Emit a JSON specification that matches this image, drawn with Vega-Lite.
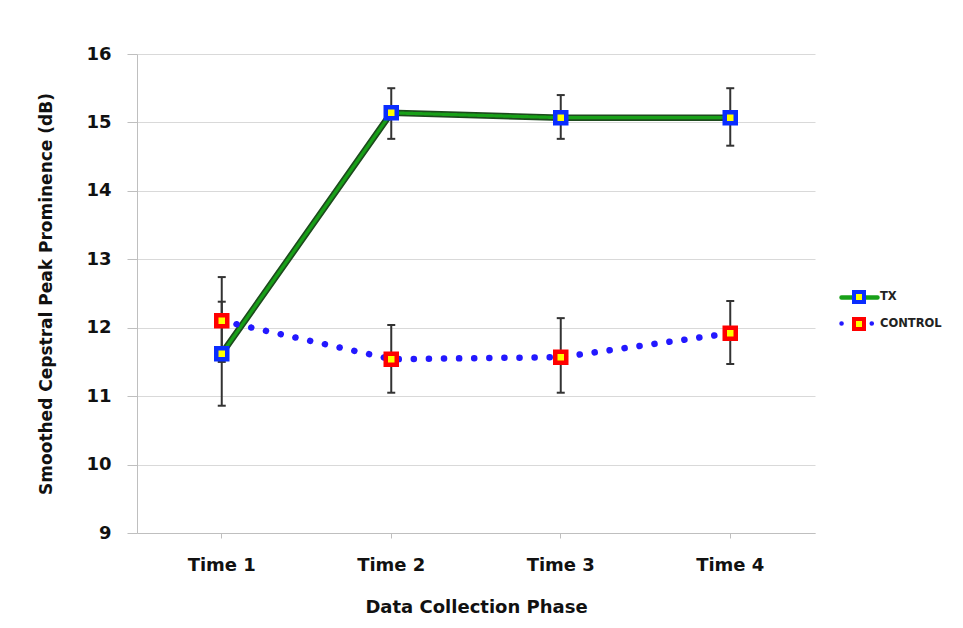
{
  "$schema": "https://vega.github.io/schema/vega-lite/v6.json",
  "width": 678,
  "height": 479,
  "autosize": {"type": "none"},
  "padding": {"left": 137, "top": 54, "right": 148, "bottom": 95},
  "background": "white",
  "config": {
    "font": "DejaVu Sans",
    "view": {"stroke": null}
  },
  "data": {
    "values": [
      {"phase": "Time 1", "series": "TX", "mean": 11.62, "lo": 10.86, "hi": 12.38},
      {"phase": "Time 2", "series": "TX", "mean": 15.14, "lo": 14.76, "hi": 15.50},
      {"phase": "Time 3", "series": "TX", "mean": 15.07, "lo": 14.76, "hi": 15.40},
      {"phase": "Time 4", "series": "TX", "mean": 15.07, "lo": 14.66, "hi": 15.50},
      {"phase": "Time 1", "series": "CONTROL", "mean": 12.10, "lo": 11.50, "hi": 12.74},
      {"phase": "Time 2", "series": "CONTROL", "mean": 11.54, "lo": 11.05, "hi": 12.04},
      {"phase": "Time 3", "series": "CONTROL", "mean": 11.57, "lo": 11.05, "hi": 12.14},
      {"phase": "Time 4", "series": "CONTROL", "mean": 11.92, "lo": 11.47, "hi": 12.39}
    ]
  },
  "encoding": {
    "x": {
      "field": "phase",
      "type": "nominal",
      "scale": {"type": "band", "domain": ["Time 1", "Time 2", "Time 3", "Time 4"], "paddingInner": 0, "paddingOuter": 0},
      "axis": {
        "title": "Data Collection Phase",
        "labelAngle": 0,
        "grid": false,
        "tickSize": 5,
        "tickColor": "#bfbfbf",
        "domainColor": "#bfbfbf",
        "labelPadding": 18,
        "labelFontSize": 18,
        "labelFontWeight": "bold",
        "labelColor": "#111111",
        "titleFontSize": 18,
        "titleFontWeight": "bold",
        "titleColor": "#111111",
        "titlePadding": 24
      }
    },
    "y": {
      "field": "mean",
      "type": "quantitative",
      "title": "Smoothed Cepstral Peak Prominence (dB)",
      "scale": {"domain": [9, 16], "nice": false, "zero": false},
      "axis": {
        "values": [9, 10, 11, 12, 13, 14, 15, 16],
        "grid": true,
        "gridColor": "#d9d9d9",
        "domainColor": "#bfbfbf",
        "tickColor": "#bfbfbf",
        "tickSize": 10,
        "labelPadding": 16,
        "labelFontSize": 18,
        "labelFontWeight": "bold",
        "labelColor": "#111111",
        "titleFontSize": 17,
        "titleFontWeight": "bold",
        "titleColor": "#111111",
        "titlePadding": 30
      }
    }
  },
  "layer": [
    {
      "transform": [{"filter": "datum.series === 'TX'"}],
      "mark": {"type": "line", "strokeWidth": 6.5, "color": "#1d4a1d"}
    },
    {
      "transform": [{"filter": "datum.series === 'TX'"}],
      "mark": {"type": "line", "strokeWidth": 3.2},
      "encoding": {
        "color": {
          "field": "series", "type": "nominal",
          "scale": {"domain": ["TX", "CONTROL"], "range": ["#18a018", "#2318ff"]},
          "legend": {"orient": "none", "legendX": 715, "legendY": 236, "title": null, "symbolType": "M-3.6,0H3.6", "symbolSize": 100, "symbolStrokeWidth": 4.5, "labelExpr": "''", "rowPadding": 7, "padding": 0, "encode": {"symbols": {"update": {"strokeCap": {"value": "round"}}}}}
        },
        "strokeDash": {
          "field": "series", "type": "nominal",
          "scale": {"domain": ["TX", "CONTROL"], "range": [[1, 0], [0.1, 15]]},
          "legend": {"orient": "none", "legendX": 715, "legendY": 236, "title": null, "symbolType": "M-3.6,0H3.6", "symbolSize": 100, "symbolStrokeWidth": 4.5, "labelExpr": "''", "rowPadding": 7, "padding": 0, "encode": {"symbols": {"update": {"strokeCap": {"value": "round"}}}}}
        }
      }
    },
    {
      "transform": [{"filter": "datum.series === 'CONTROL'"}],
      "mark": {"type": "line", "strokeWidth": 6.5, "strokeCap": "round"},
      "encoding": {
        "color": {"field": "series", "type": "nominal"},
        "strokeDash": {"field": "series", "type": "nominal"}
      }
    },
    {
      "mark": {"type": "rule", "color": "#333333", "strokeWidth": 2},
      "encoding": {
        "y": {"field": "lo", "type": "quantitative", "title": "Smoothed Cepstral Peak Prominence (dB)"},
        "y2": {"field": "hi"}
      }
    },
    {
      "mark": {"type": "tick", "color": "#333333", "size": 8, "thickness": 2, "opacity": 1},
      "encoding": {"y": {"field": "lo", "type": "quantitative", "title": "Smoothed Cepstral Peak Prominence (dB)"}}
    },
    {
      "mark": {"type": "tick", "color": "#333333", "size": 8, "thickness": 2, "opacity": 1},
      "encoding": {"y": {"field": "hi", "type": "quantitative", "title": "Smoothed Cepstral Peak Prominence (dB)"}}
    },
    {
      "mark": {"type": "point", "shape": "square", "filled": false, "fill": "#ffff00", "size": 121, "strokeWidth": 4.5, "opacity": 1, "fillOpacity": 1},
      "encoding": {
        "stroke": {
          "field": "series", "type": "nominal", "sort": ["TX", "CONTROL"],
          "scale": {"range": ["#0a2dff", "#ff0000"]},
          "legend": {"orient": "none", "legendX": 715, "legendY": 236, "title": null, "symbolType": "square", "symbolSize": 100, "symbolStrokeWidth": 4, "symbolFillColor": "#ffff00", "labelFontSize": 11.5, "labelFontWeight": "bold", "labelColor": "#222222", "labelOffset": 14, "rowPadding": 1, "padding": 0, "encode": {"symbols": {"update": {"fill": {"value": "#ffff00"}, "fillOpacity": {"value": 1}, "opacity": {"value": 1}}}}}
        }
      }
    }
  ]
}
